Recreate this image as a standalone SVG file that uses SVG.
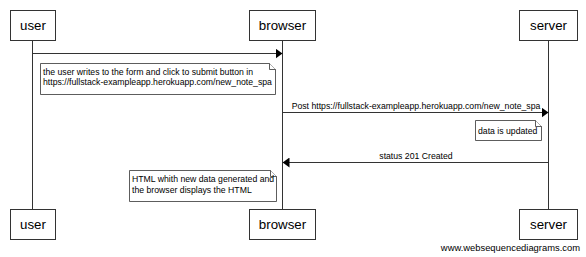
<svg xmlns="http://www.w3.org/2000/svg" width="586" height="257" viewBox="0 0 586 257">
  <style>
    .box { fill: #fff; stroke: #333; stroke-width: 1; }
    .life { stroke: #333; stroke-width: 1; fill: none; }
    .msg { stroke: #333; stroke-width: 1; fill: none; }
    .note { fill: #fff; stroke: #333; stroke-width: 0.8; }
    .pname { font-family: "Liberation Sans", Arial, sans-serif; font-size: 13.3px; fill: #000; text-anchor: middle; }
    .ntext { font-family: "Liberation Sans", Arial, sans-serif; font-size: 8.7px; fill: #000; }
    .mtext { font-family: "Liberation Sans", Arial, sans-serif; font-size: 8.7px; fill: #000; text-anchor: middle; }
    .mark { font-family: "Liberation Sans", Arial, sans-serif; font-size: 9.4px; fill: #000; text-anchor: end; }
  </style>
  <defs>
    <marker id="head" viewBox="0 0 7 10" refX="7" refY="5" markerWidth="7" markerHeight="10" markerUnits="userSpaceOnUse" orient="auto">
      <path d="M0,0 L7,5 L0,10 Z" fill="#000"/>
    </marker>
  </defs>

  <!-- lifelines -->
  <g id="lifelines">
    <line class="life" x1="32.5" y1="40.5" x2="32.5" y2="209.5"/>
    <line class="life" x1="282.5" y1="40.5" x2="282.5" y2="209.5"/>
    <line class="life" x1="548.5" y1="40.5" x2="548.5" y2="209.5"/>
  </g>

  <!-- participants -->
  <g id="user">
    <rect class="box" x="10.5" y="10.5" width="45" height="30"/>
    <text class="pname" x="33" y="30">user</text>
    <rect class="box" x="10.5" y="209.5" width="45" height="30"/>
    <text class="pname" x="33" y="229">user</text>
  </g>
  <g id="browser">
    <rect class="box" x="249.5" y="10.5" width="66" height="30"/>
    <text class="pname" x="282.5" y="30">browser</text>
    <rect class="box" x="249.5" y="209.5" width="66" height="30"/>
    <text class="pname" x="282.5" y="229">browser</text>
  </g>
  <g id="server">
    <rect class="box" x="519.5" y="10.5" width="58" height="30"/>
    <text class="pname" x="548.5" y="30">server</text>
    <rect class="box" x="519.5" y="209.5" width="58" height="30"/>
    <text class="pname" x="548.5" y="229">server</text>
  </g>

  <!-- messages -->
  <g id="connectors">
    <line class="msg" x1="32.5" y1="53.5" x2="282.5" y2="53.5" marker-end="url(#head)"/>
    <line class="msg" x1="282.5" y1="112.5" x2="548.5" y2="112.5" marker-end="url(#head)"/>
    <text class="mtext" x="416" y="109">Post https://fullstack-exampleapp.herokuapp.com/new_note_spa</text>
    <line class="msg" x1="548.5" y1="162.5" x2="282.5" y2="162.5" marker-end="url(#head)"/>
    <text class="mtext" x="416" y="159">status 201 Created</text>
  </g>

  <!-- notes -->
  <g id="note-submit">
    <path class="note" d="M40.5,63.5 H269.5 L275.5,69.5 V94.5 H40.5 Z"/>
    <path class="note" fill="none" d="M269.5,63.5 V69.5 H275.5"/>
    <text class="ntext" x="43" y="74.5">the user writes to the form and click to submit button in</text>
    <text class="ntext" x="43" y="85">https://fullstack-exampleapp.herokuapp.com/new_note_spa</text>
  </g>
  <g id="note-updated">
    <path class="note" d="M475.5,120.5 H535.5 L541.5,126.5 V140.5 H475.5 Z"/>
    <path class="note" fill="none" d="M535.5,120.5 V126.5 H541.5"/>
    <text class="ntext" x="478" y="134">data is updated</text>
  </g>
  <g id="note-html">
    <path class="note" d="M129.5,170.5 H270.5 L276.5,176.5 V201.5 H129.5 Z"/>
    <path class="note" fill="none" d="M270.5,170.5 V176.5 H276.5"/>
    <text class="ntext" x="132" y="182">HTML whith new data generated and</text>
    <text class="ntext" x="132" y="192.5">the browser displays the HTML</text>
  </g>

  <text class="mark" x="580" y="251">www.websequencediagrams.com</text>
</svg>
